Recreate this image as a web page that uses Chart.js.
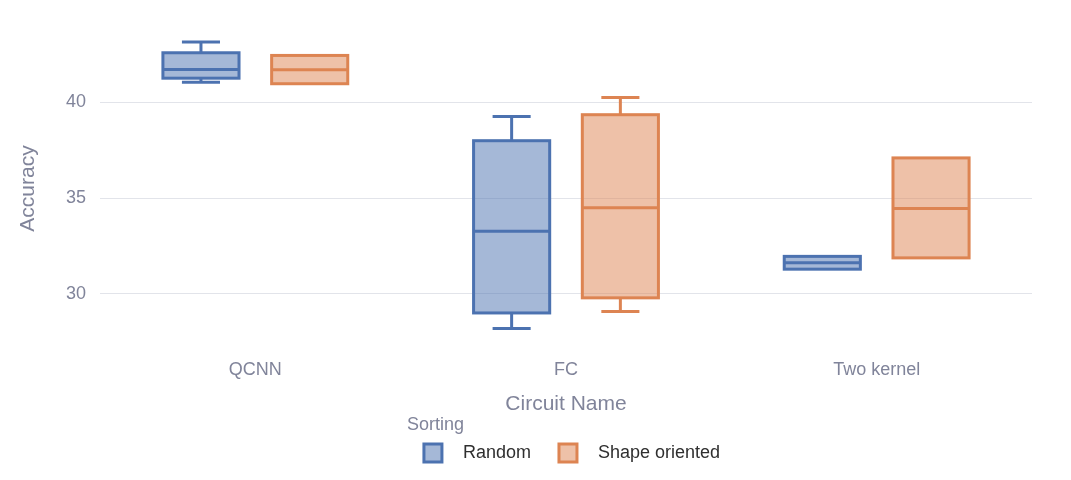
<!DOCTYPE html>
<html lang="en">

<head>
    <meta charset="UTF-8">
    <title>Accuracy by circuit</title>
    <script src="https://cdn.jsdelivr.net/npm/chart.js"></script>
    <style>
        body {
            margin: 0;
            background: #fff;
        }
    </style>
</head>

<body>
    <canvas id="boxChart" width="1071" height="480"></canvas>

    <script>
        const categories = ['QCNN', 'FC', 'Two kernel'];
        const yTicks = [30, 35, 40];

        // Random sorting
        const randomMin = [41.06, 28.18, 31.28];
        const randomQ1 = [41.27, 28.99, 31.28];
        const randomMedian = [41.73, 33.26, 31.62];
        const randomQ3 = [42.60, 38.00, 31.95];
        const randomMax = [43.16, 39.27, 31.95];

        // Shape oriented sorting
        const shapeMin = [40.98, 29.07, 31.87];
        const shapeQ1 = [40.98, 29.78, 31.87];
        const shapeMedian = [41.71, 34.49, 34.45];
        const shapeQ3 = [42.46, 39.36, 37.10];
        const shapeMax = [42.46, 40.26, 37.10];

        const FONT = '"Liberation Sans", Arial, sans-serif';
        const AXIS_COLOR = '#80849a';

        // box outline, whiskers and median line on top of the floating bars
        const boxPlugin = {
            id: 'boxWhiskers',
            afterDatasetsDraw(chart) {
                const ctx = chart.ctx;
                const yScale = chart.scales.y;
                const line = (x1, y1, x2, y2) => {
                    ctx.beginPath();
                    ctx.moveTo(x1, y1);
                    ctx.lineTo(x2, y2);
                    ctx.stroke();
                };
                chart.data.datasets.forEach((ds, di) => {
                    const meta = chart.getDatasetMeta(di);
                    meta.data.forEach((bar, i) => {
                        const x = bar.x;
                        const w = bar.width;
                        ctx.save();
                        ctx.strokeStyle = ds.borderColor;
                        ctx.lineWidth = 3;
                        const yQ1 = yScale.getPixelForValue(ds.data[i][0]);
                        const yQ3 = yScale.getPixelForValue(ds.data[i][1]);
                        ctx.strokeRect(x - w / 2, yQ3, w, yQ1 - yQ3);
                        const yMed = yScale.getPixelForValue(ds.medians[i]);
                        line(x - w / 2, yMed, x + w / 2, yMed);
                        if (ds.maxs[i] > ds.data[i][1]) {
                            const yMax = yScale.getPixelForValue(ds.maxs[i]);
                            line(x, yQ3, x, yMax);
                            line(x - w / 4, yMax, x + w / 4, yMax);
                        }
                        if (ds.mins[i] < ds.data[i][0]) {
                            const yMin = yScale.getPixelForValue(ds.mins[i]);
                            line(x, yQ1, x, yMin);
                            line(x - w / 4, yMin, x + w / 4, yMin);
                        }
                        ctx.restore();
                    });
                });
            }
        };

        // legend drawn below the axis title, like the original
        const legendPlugin = {
            id: 'sortLegend',
            afterDraw(chart) {
                const ctx = chart.ctx;
                const area = chart.chartArea;
                ctx.save();
                ctx.font = '18px ' + FONT;
                const box = 18, gapText = 21, gapItem = 28;
                const items = chart.data.datasets.map(ds => ({
                    ds: ds,
                    tw: ctx.measureText(ds.label).width
                }));
                let total = 0;
                items.forEach((it, i) => {
                    total += box + gapText + it.tw + (i > 0 ? gapItem : 0);
                });
                let x = (area.left + area.right) / 2 - total / 2 + 6;
                const yc = 453;

                ctx.fillStyle = AXIS_COLOR;
                ctx.textAlign = 'left';
                ctx.textBaseline = 'middle';
                ctx.fillText('Sorting', x - 17, 425);

                items.forEach(it => {
                    ctx.fillStyle = it.ds.backgroundColor;
                    ctx.fillRect(x, yc - box / 2, box, box);
                    ctx.strokeStyle = it.ds.borderColor;
                    ctx.lineWidth = 3;
                    ctx.strokeRect(x, yc - box / 2, box, box);
                    ctx.fillStyle = '#2f2f2f';
                    ctx.fillText(it.ds.label, x + box + gapText, yc);
                    x += box + gapText + it.tw + gapItem;
                });
                ctx.restore();
            }
        };

        const ctx = document.getElementById('boxChart').getContext('2d');
        const boxChart = new Chart(ctx, {
            type: 'bar',
            data: {
                labels: categories,
                datasets: [
                    {
                        label: 'Random',
                        data: randomQ1.map((q, i) => [q, randomQ3[i]]),
                        medians: randomMedian,
                        mins: randomMin,
                        maxs: randomMax,
                        backgroundColor: 'rgba(76, 114, 176, 0.5)',
                        borderColor: '#4c72b0',
                        borderWidth: 0,
                        inflateAmount: 0
                    },
                    {
                        label: 'Shape oriented',
                        data: shapeQ1.map((q, i) => [q, shapeQ3[i]]),
                        medians: shapeMedian,
                        mins: shapeMin,
                        maxs: shapeMax,
                        backgroundColor: 'rgba(221, 132, 82, 0.5)',
                        borderColor: '#dd8452',
                        borderWidth: 0,
                        inflateAmount: 0
                    }
                ]
            },
            options: {
                responsive: false,
                animation: false,
                categoryPercentage: 0.70,
                barPercentage: 0.70,
                layout: {
                    padding: { left: 0, right: 39, top: 26, bottom: 63 }
                },
                plugins: {
                    legend: { display: false },
                    tooltip: { enabled: false }
                },
                scales: {
                    x: {
                        grid: { display: false },
                        border: { display: false },
                        ticks: {
                            color: AXIS_COLOR,
                            font: { family: FONT, size: 18 },
                            padding: 0
                        },
                        title: {
                            display: true,
                            text: 'Circuit Name',
                            color: AXIS_COLOR,
                            font: { family: FONT, size: 21 },
                            padding: 0
                        },
                        afterFit(scale) { scale.height = 66; }
                    },
                    y: {
                        min: 27,
                        max: 44,
                        grid: { color: '#e2e4ea', lineWidth: 1, drawTicks: false },
                        border: { display: false },
                        ticks: {
                            color: AXIS_COLOR,
                            font: { family: FONT, size: 18 },
                            padding: 14
                        },
                        afterBuildTicks(scale) {
                            scale.ticks = yTicks.map(v => ({ value: v }));
                        },
                        title: {
                            display: true,
                            text: 'Accuracy',
                            color: AXIS_COLOR,
                            font: { family: FONT, size: 21 },
                            padding: { top: 16, bottom: 0 }
                        },
                        afterFit(scale) { scale.width = 100; }
                    }
                }
            },
            plugins: [boxPlugin, legendPlugin]
        });
    </script>

</body>

</html>
